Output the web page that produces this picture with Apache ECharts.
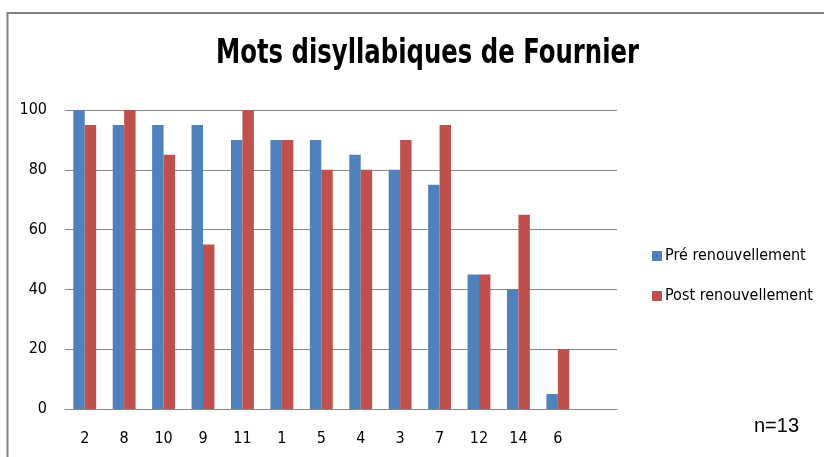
<!DOCTYPE html>
<html><head><meta charset="utf-8">
<script src="https://cdn.jsdelivr.net/npm/echarts@6/dist/echarts.min.js"></script>
<style>html,body{margin:0;padding:0;background:#fff}#c{width:824px;height:457px}</style>
</head><body><div id="c"></div>
<script>
const categories = ['2','8','10','9','11','1','5','4','3','7','12','14','6',''];
const preValues = [100,95,95,95,90,90,90,85,80,75,45,40,5,null];
const postValues = [95,100,85,55,100,90,80,80,90,95,45,65,20,null];
const yTicks = [0,20,40,60,80,100];
const titleText = 'Mots disyllabiques de Fournier';
const seriesNames = ['Pré renouvellement','Post renouvellement'];
const noteText = 'n=13';

const font = "'DejaVu Sans Condensed','Liberation Sans Narrow',sans-serif";
const chart = echarts.init(document.getElementById('c'), null, {renderer:'canvas'});
chart.setOption({
  animation:false,
  backgroundColor:'#fff',
  color:['#4F81BD','#C0504D'],
  legend:{orient:'vertical',left:647,top:243,itemWidth:10,itemHeight:10,itemGap:24,
    icon:'rect',textStyle:{fontFamily:font,fontSize:16,color:'#000',padding:[0,0,0,-2]}},
  grid:{left:65,right:207,top:110,bottom:48,containLabel:false},
  xAxis:{type:'category',data:categories,
    axisLine:{lineStyle:{color:'#888',width:1}},axisTick:{show:false},
    axisLabel:{margin:22,fontFamily:font,fontSize:16,color:'#000'}},
  yAxis:{type:'value',min:yTicks[0],max:yTicks[yTicks.length-1],interval:yTicks[1]-yTicks[0],
    axisLine:{show:false},axisTick:{show:false},
    splitLine:{lineStyle:{color:'#888',width:1}},
    axisLabel:{margin:18,fontFamily:font,fontSize:16,color:'#000'}},
  series:[
    {name:seriesNames[0],type:'bar',data:preValues,barGap:'0%',barCategoryGap:'42%'},
    {name:seriesNames[1],type:'bar',data:postValues,barGap:'0%',barCategoryGap:'42%'}
  ],
  graphic:[
    {type:'polyline',shape:{points:[[7.5,470],[7.5,13],[830,13]]},style:{stroke:'#808080',lineWidth:2,fill:null}},
    {type:'text',x:427.5,y:54,scaleX:0.82,
      style:{text:titleText,font:"bold 33px 'DejaVu Sans Condensed',sans-serif",fill:'#000',textAlign:'center',textVerticalAlign:'middle'}},
    {type:'text',left:754,top:416,style:{text:noteText,font:"20px 'Liberation Sans',Arial,sans-serif",fill:'#000'}}
  ]
});
</script></body></html>
